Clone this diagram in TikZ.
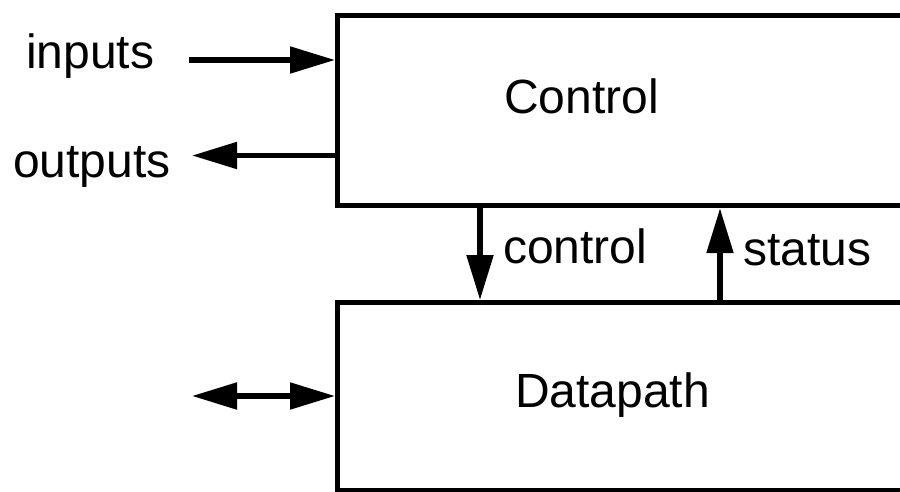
\documentclass[tikz,border=0pt]{standalone}
\usepackage{fontspec}
\setmainfont{Liberation Sans}
\usetikzlibrary{arrows.meta}
\tikzset{
  blk/.style={draw, line width=5.2pt, anchor=north west, inner sep=0pt},
  lbl/.style={anchor=base west, inner sep=0pt, font=\fontsize{48}{56}\selectfont},
  arr/.style={line width=5.2pt, -{Triangle[length=45pt,width=26pt]}},
  dbl/.style={line width=5.2pt, {Triangle[length=45pt,width=26pt]}-{Triangle[length=45pt,width=26pt]}}
}
\begin{document}
\begin{tikzpicture}[x=1pt,y=-1pt]
\useasboundingbox (0,0) rectangle (900,491);
\clip (0,0) rectangle (900,491);
% the two blocks run past the right edge
\node[blk, minimum width=700pt, minimum height=190.5pt] (ctrl) at (335,12.5) {};
\node[blk, minimum width=700pt, minimum height=188pt] (dp) at (335,300) {};
% block titles
\node[lbl] (tctrl) at (504,113) {Control};
\node[lbl] (tdp) at (515,407) {Datapath};
% external signals
\node[lbl] (tin) at (26,68) {inputs};
\node[lbl] (tout) at (13,177) {outputs};
\coordinate (inS) at (189,60);
\coordinate (outE) at (192,155.5);
\coordinate (ioE) at (192,396);
\draw[arr] (inS) -- (inS -| ctrl.west);
\draw[arr] (outE -| ctrl.west) -- (outE);
\draw[dbl] (ioE) -- (ioE -| dp.west);
% internal signals between the blocks
\coordinate (cx) at (480,0);
\coordinate (sx) at (720,0);
\draw[arr] (cx |- ctrl.south) -- (cx |- dp.north);
\draw[arr] (sx |- dp.north) -- (sx |- ctrl.south);
\node[lbl] (tcs) at (503,263) {control};
\node[lbl] (tst) at (743,265) {status};
\end{tikzpicture}
\end{document}
